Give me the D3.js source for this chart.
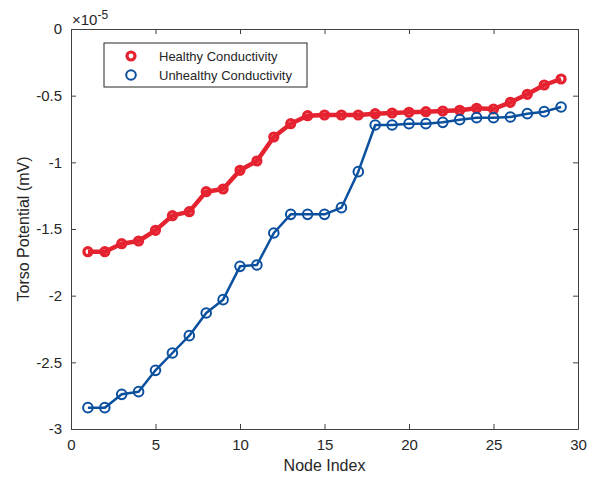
<html>
<head><meta charset="utf-8"></head>
<script src="https://d3js.org/d3.v7.min.js"></script>
<style>
  body { margin: 0; background: white; }
  text { font-family: "Liberation Sans", Arial, sans-serif; fill: #262626; }
</style>
<body>
<svg id="chart" width="594" height="478"></svg>
<script>
// values in units of 1e-5 mV
var nodes = [1,2,3,4,5,6,7,8,9,10,11,12,13,14,15,16,17,18,19,20,21,22,23,24,25,26,27,28,29];
var healthy = [-1.67,-1.67,-1.61,-1.59,-1.51,-1.40,-1.37,-1.22,-1.20,-1.06,-0.99,-0.81,-0.71,-0.65,-0.645,
  -0.645,-0.645,-0.635,-0.63,-0.625,-0.62,-0.615,-0.61,-0.595,-0.60,-0.55,-0.49,-0.42,-0.375];
var unhealthy = [-2.84,-2.84,-2.74,-2.72,-2.56,-2.43,-2.30,-2.13,-2.03,-1.78,-1.77,-1.53,-1.39,-1.39,-1.39,
  -1.34,-1.07,-0.72,-0.72,-0.71,-0.71,-0.70,-0.68,-0.665,-0.665,-0.66,-0.635,-0.62,-0.585];
var xTicks = [0,5,10,15,20,25,30];
var yTicks = [0,-0.5,-1,-1.5,-2,-2.5,-3];
var seriesNames = ["Healthy Conductivity", "Unhealthy Conductivity"];

var mLeft = 71, mTop = 29, w = 507, h = 400;
var svg = d3.select("#chart");
var g = svg.append("g").attr("transform", "translate(" + mLeft + "," + mTop + ")");

var x = d3.scaleLinear().domain([0, 30]).range([0, w]);
var y = d3.scaleLinear().domain([-3, 0]).range([h, 0]);

var axisColor = "#404040";

// axes with inward ticks
var xb = g.append("g").attr("transform", "translate(0," + h + ")")
  .call(d3.axisBottom(x).tickValues(xTicks).tickSizeInner(-5).tickSizeOuter(0).tickPadding(10));
var xt = g.append("g")
  .call(d3.axisTop(x).tickValues(xTicks).tickSizeInner(-5).tickSizeOuter(0).tickFormat(""));
var yl = g.append("g")
  .call(d3.axisLeft(y).tickValues(yTicks).tickSizeInner(-5).tickSizeOuter(0).tickPadding(9)
    .tickFormat(function(d) { return String(d); }));
var yr = g.append("g").attr("transform", "translate(" + w + ",0)")
  .call(d3.axisRight(y).tickValues(yTicks).tickSizeInner(-5).tickSizeOuter(0).tickFormat(""));

[xb, xt, yl, yr].forEach(function(a) {
  a.selectAll("path").attr("stroke", axisColor);
  a.selectAll("line").attr("stroke", axisColor);
  a.selectAll("text").style("font-size", "15px").attr("fill", "#262626");
});

// series
var series = [
  { name: seriesNames[0], vals: healthy, color: "#e52330", lw: 4.5, r: 4, sw: 3.2 },
  { name: seriesNames[1], vals: unhealthy, color: "#0b4f9f", lw: 2.5, r: 4.8, sw: 2 }
];

var line = d3.line().x(function(d) { return x(d[0]); }).y(function(d) { return y(d[1]); });

series.forEach(function(s) {
  var pts = nodes.map(function(n, i) { return [n, s.vals[i]]; });
  g.append("path").datum(pts)
    .attr("fill", "none").attr("stroke", s.color).attr("stroke-width", s.lw)
    .attr("stroke-linejoin", "round")
    .attr("d", line);
  g.selectAll(null).data(pts).enter().append("circle")
    .attr("cx", function(d) { return x(d[0]); })
    .attr("cy", function(d) { return y(d[1]); })
    .attr("r", s.r)
    .attr("fill", "none").attr("stroke", s.color).attr("stroke-width", s.sw);
});

// legend
var lg = g.append("g").attr("transform", "translate(33,14)");
lg.append("rect").attr("width", 203).attr("height", 44)
  .attr("fill", "white").attr("stroke", "#262626").attr("stroke-width", 1);
series.forEach(function(s, i) {
  var row = lg.append("g").attr("transform", "translate(0," + (13 + i * 19) + ")");
  row.append("circle").attr("cx", 27).attr("cy", 0).attr("r", s.r)
    .attr("fill", "none").attr("stroke", s.color).attr("stroke-width", s.sw);
  row.append("text").attr("x", 55).attr("y", 0).attr("dy", "0.35em")
    .style("font-size", "13px").text(s.name);
});

// exponent
var ex = svg.append("text").attr("x", 72).attr("y", 25).style("font-size", "15px");
ex.append("tspan").text("\u00d710");
ex.append("tspan").attr("dy", -6).style("font-size", "12px").text("-5");

// axis titles
svg.append("text").attr("x", mLeft + w / 2).attr("y", 471).attr("text-anchor", "middle")
  .style("font-size", "16px").text("Node Index");
svg.append("text").attr("transform", "translate(29," + (mTop + h / 2) + ") rotate(-90)")
  .attr("text-anchor", "middle").style("font-size", "16px").text("Torso Potential (mV)");
</script>
</body>
</html>
